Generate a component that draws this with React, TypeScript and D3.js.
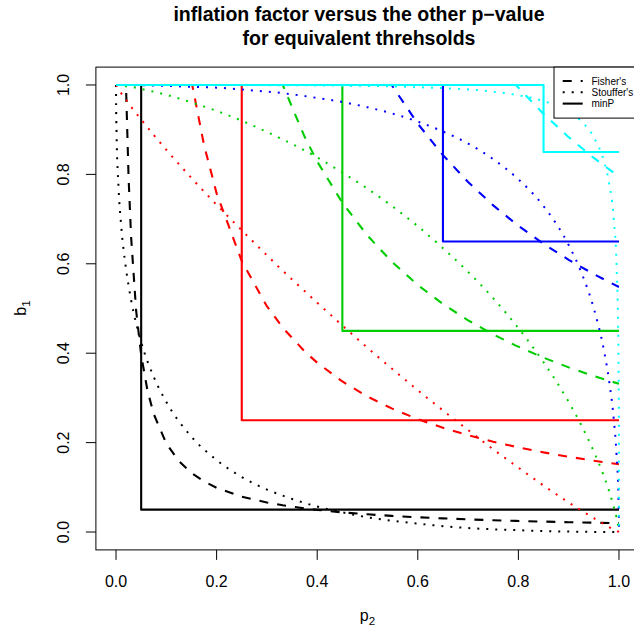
import React from "react";
import * as d3 from "d3";

const WIDTH = 634;
const HEIGHT = 632;

// thresholds for the minP test and the colours used for each one
const ALPHAS = [0.05, 0.25, 0.45, 0.65, 0.85];
const COLORS = ["#000000", "#FF0000", "#00CD00", "#0000FF", "#00FFFF"];

// p2 grid for the Stouffer curves
const P2 = [0, 0.0001, 0.001, 0.005, 0.01, 0.02, 0.03, 0.05, 0.075, 0.1, 0.15, 0.2, 0.25, 0.3, 0.33, 0.35, 0.4, 0.45, 0.5, 0.55, 0.6, 0.65, 0.7, 0.75, 0.8, 0.85, 0.9, 0.925, 0.95, 0.97, 0.98, 0.99, 0.995, 0.999, 0.9999, 1];

const STOUFFER_BLACK = [1, 0.970, 0.896, 0.771, 0.689, 0.588, 0.519, 0.425, 0.347, 0.291, 0.213, 0.161, 0.123, 0.095, 0.082, 0.074, 0.057, 0.044, 0.033, 0.025, 0.019, 0.013, 0.009, 0.006, 0.004, 0.002, 0.001, 0.0005, 0.0003, 0.0001, 0.0001, 0, 0, 0, 0, 0];
const STOUFFER_RED = [1, 1, 0.998, 0.991, 0.982, 0.967, 0.951, 0.923, 0.888, 0.855, 0.792, 0.732, 0.675, 0.619, 0.586, 0.565, 0.513, 0.462, 0.412, 0.364, 0.317, 0.272, 0.228, 0.185, 0.144, 0.104, 0.066, 0.048, 0.031, 0.018, 0.011, 0.005, 0.003, 0.0005, 0.0001, 0];
const STOUFFER_GREEN = [1, 1, 1, 0.9995, 0.999, 0.997, 0.996, 0.991, 0.985, 0.978, 0.961, 0.942, 0.92, 0.895, 0.879, 0.868, 0.838, 0.804, 0.768, 0.728, 0.684, 0.635, 0.582, 0.523, 0.456, 0.38, 0.291, 0.239, 0.18, 0.125, 0.093, 0.055, 0.033, 0.009, 0.001, 0];
const STOUFFER_BLUE = [1, 1, 1, 1, 1, 0.9999, 0.9998, 0.9995, 0.999, 0.998, 0.996, 0.994, 0.99, 0.985, 0.982, 0.979, 0.971, 0.962, 0.95, 0.936, 0.918, 0.896, 0.869, 0.834, 0.789, 0.729, 0.642, 0.581, 0.5, 0.407, 0.341, 0.248, 0.176, 0.074, 0.019, 0];
const STOUFFER_CYAN = [1, 1, 1, 1, 1, 1, 1, 1, 1, 1, 1, 1, 1, 0.9996, 0.9995, 0.9994, 0.999, 0.9985, 0.998, 0.9966, 0.995, 0.993, 0.99, 0.985, 0.977, 0.964, 0.94, 0.919, 0.883, 0.83, 0.783, 0.695, 0.603, 0.4, 0.189, 0];

// p2 grid for the Fisher curves
const FISHER_P2 = [0, 0.0198, 0.025, 0.03, 0.04, 0.05, 0.0625, 0.075, 0.1, 0.125, 0.1515, 0.175, 0.2, 0.25, 0.3, 0.3315, 0.375, 0.4, 0.45, 0.5, 0.548, 0.6, 0.65, 0.7, 0.75, 0.795, 0.85, 0.9, 0.95, 1];

const FISHER_BLACK = [1, 1, 0.792, 0.66, 0.495, 0.396, 0.3168, 0.264, 0.198, 0.1584, 0.1307, 0.1131, 0.099, 0.0792, 0.066, 0.0597, 0.0528, 0.0495, 0.044, 0.0396, 0.0361, 0.033, 0.0305, 0.0283, 0.0264, 0.0249, 0.0233, 0.022, 0.0208, 0.0198];
const FISHER_RED = [1, 1, 1, 1, 1, 1, 1, 1, 1, 1, 1, 0.8657, 0.7575, 0.606, 0.505, 0.457, 0.404, 0.3788, 0.3367, 0.303, 0.2765, 0.2525, 0.2331, 0.2164, 0.202, 0.1906, 0.1782, 0.1683, 0.1595, 0.1515];
const FISHER_GREEN = [1, 1, 1, 1, 1, 1, 1, 1, 1, 1, 1, 1, 1, 1, 1, 1, 0.884, 0.8288, 0.7367, 0.663, 0.6049, 0.5525, 0.51, 0.4736, 0.442, 0.417, 0.39, 0.3683, 0.3489, 0.3315];
const FISHER_BLUE = [1, 1, 1, 1, 1, 1, 1, 1, 1, 1, 1, 1, 1, 1, 1, 1, 1, 1, 1, 1, 1, 0.9133, 0.8431, 0.7829, 0.7307, 0.6893, 0.6447, 0.6089, 0.5768, 0.548];
const FISHER_CYAN = [1, 1, 1, 1, 1, 1, 1, 1, 1, 1, 1, 1, 1, 1, 1, 1, 1, 1, 1, 1, 1, 1, 1, 1, 1, 1, 0.9353, 0.8833, 0.8368, 0.795];

const STOUFFER = [STOUFFER_BLACK, STOUFFER_RED, STOUFFER_GREEN, STOUFFER_BLUE, STOUFFER_CYAN];
const FISHER = [FISHER_BLACK, FISHER_RED, FISHER_GREEN, FISHER_BLUE, FISHER_CYAN];

const TICKS = [0, 0.2, 0.4, 0.6, 0.8, 1.0];
const LEGEND = ["Fisher's", "Stouffer's", "minP"];

const FONT = "'Liberation Sans', Arial, Helvetica, sans-serif";
const LWD = 2.1;
const DASH = "9,9";
const DOT = "2,7";

// plot region (R pads the data range by 4% each side)
const PLOT = { left: 95.9, right: 639.1, top: 67.1, bottom: 549.9 };

const x = d3.scaleLinear().domain([-0.04, 1.04]).range([PLOT.left, PLOT.right]);
const y = d3.scaleLinear().domain([-0.04, 1.04]).range([PLOT.bottom, PLOT.top]);

const smooth = d3.line<[number, number]>().x(d => x(d[0])).y(d => y(d[1])).curve(d3.curveMonotoneX);
const straight = d3.line<[number, number]>().x(d => x(d[0])).y(d => y(d[1]));

export default function App() {
  const legendTypes = [DASH, DOT, null];

  return (
    <svg width={WIDTH} height={HEIGHT} style={{ position: "absolute", left: 0, top: 0, background: "#fff" }} fontFamily={FONT}>
      <defs>
        <clipPath id="plotclip">
          <rect x={PLOT.left} y={PLOT.top} width={PLOT.right - PLOT.left} height={PLOT.bottom - PLOT.top} />
        </clipPath>
      </defs>

      <text x={359} y={20.5} textAnchor="middle" fontSize={19.5} fontWeight="bold">inflation factor versus the other p−value</text>
      <text x={359} y={44.5} textAnchor="middle" fontSize={19.5} fontWeight="bold">for equivalent threhsolds</text>

      <g clipPath="url(#plotclip)">
        {ALPHAS.map((a, i) => {
          const fisherPts = FISHER_P2.map((p, j) => [p, FISHER[i][j]] as [number, number]);
          const stoufferPts = P2.map((p, j) => [p, STOUFFER[i][j]] as [number, number]);
          const minPts: [number, number][] = [[0, 1], [a, 1], [a, a], [1, a]];
          return (
            <g key={a} fill="none" stroke={COLORS[i]} strokeWidth={LWD}>
              <path d={straight(fisherPts) || ""} strokeDasharray={DASH} />
              <path d={smooth(stoufferPts) || ""} strokeDasharray={DOT} strokeWidth={2} />
              <path d={straight(minPts) || ""} strokeLinejoin="round" />
            </g>
          );
        })}
      </g>

      <rect x={PLOT.left} y={PLOT.top} width={PLOT.right - PLOT.left} height={PLOT.bottom - PLOT.top} fill="none" stroke="#000" strokeWidth={1} />

      {/* x axis */}
      {TICKS.map(t => (
        <g key={"x" + t}>
          <line x1={x(t)} x2={x(t)} y1={PLOT.bottom} y2={PLOT.bottom + 10} stroke="#000" />
          <text x={x(t)} y={587} textAnchor="middle" fontSize={16}>{t.toFixed(1)}</text>
        </g>
      ))}
      <text x={x(0.5)} y={621} textAnchor="middle" fontSize={16}>
        p<tspan fontSize={11.5} dy={4}>2</tspan>
      </text>

      {/* y axis */}
      {TICKS.map(t => (
        <g key={"y" + t}>
          <line x1={PLOT.left - 10} x2={PLOT.left} y1={y(t)} y2={y(t)} stroke="#000" />
          <text transform={`translate(${69},${y(t)}) rotate(-90)`} textAnchor="middle" fontSize={16}>{t.toFixed(1)}</text>
        </g>
      ))}
      <text transform={`translate(${26},${308}) rotate(-90)`} textAnchor="middle" fontSize={16}>
        b<tspan fontSize={11.5} dy={4}>1</tspan>
      </text>

      {/* legend */}
      <rect x={554} y={PLOT.top} width={90} height={51} fill="#fff" stroke="#000" strokeWidth={1} />
      {LEGEND.map((label, i) => {
        const ly = 81 + i * 11.3;
        return (
          <g key={label}>
            <line x1={562.7} x2={582.7} y1={ly} y2={ly} stroke="#000" strokeWidth={i === 1 ? 2 : LWD} strokeDasharray={legendTypes[i] || undefined} />
            <text x={591.5} y={ly + 3.5} fontSize={10}>{label}</text>
          </g>
        );
      })}
    </svg>
  );
}
